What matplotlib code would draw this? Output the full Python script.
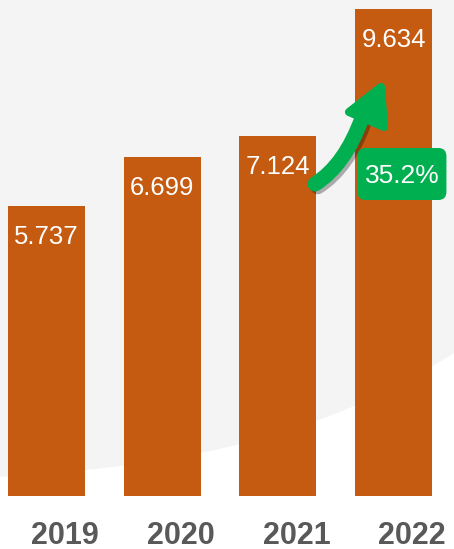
import matplotlib

matplotlib.use("Agg")
import matplotlib.pyplot as plt
import matplotlib.patheffects as pe
from matplotlib.patches import FancyBboxPatch, PathPatch, Polygon
from matplotlib.path import Path
from matplotlib.transforms import IdentityTransform

plt.rcParams["font.family"] = ["Liberation Sans", "DejaVu Sans"]

# Data
years = ["2019", "2020", "2021", "2022"]
values = [5.737, 6.699, 7.124, 9.634]
growth_label = "35.2%"

BAR_COLOR = "#C55A11"
GREEN = "#00B050"
YEAR_COLOR = "#595959"

fig = plt.figure(figsize=(4.54, 5.49), dpi=100, facecolor="white")
ax = fig.add_axes([0, 0, 1, 1])
ax.set_facecolor("none")
ax.axis("off")

# light gray swoosh in the background (figure pixels)
verts = [(0, 72), (150, 82), (304, 100), (454, 196), (454, 549), (0, 549), (0, 72)]
codes = [Path.MOVETO, Path.CURVE4, Path.CURVE4, Path.CURVE4,
         Path.LINETO, Path.LINETO, Path.CLOSEPOLY]
bg = PathPatch(Path(verts, codes), facecolor="#F4F4F4", edgecolor="none",
               transform=IdentityTransform(), zorder=-10)
fig.patches.append(bg)

x = list(range(len(years)))
ax.bar(x, values, width=0.665, color=BAR_COLOR, zorder=2)
ax.set_xlim(-0.402, 3.522)
ax.set_ylim(-1.048, 9.812)

for i, v in zip(x, values):
    ax.annotate(f"{v:.3f}", (i, v), xytext=(0, -27.4), textcoords="offset points",
                ha="center", va="baseline", color="white", fontsize=18.5, zorder=3)

for i, yr in zip(x, years):
    ax.text(i + 0.16, -0.95, yr, ha="center", va="baseline", color=YEAR_COLOR,
            fontsize=22, fontweight="bold")

# growth arrow from 2021 to 2022: curved shaft + rounded head
shadow = [pe.SimpleLineShadow(offset=(2, -2), alpha=0.3), pe.Normal()]
shaft = Path([(2.321, 6.172), (2.580, 6.548), (2.727, 7.478)],
             [Path.MOVETO, Path.CURVE3, Path.CURVE3])
ax.add_patch(PathPatch(shaft, fill=False, edgecolor=GREEN, lw=10.8,
                       capstyle="round", zorder=5, path_effects=shadow))
head = Polygon([(2.891, 8.091), (2.614, 7.596), (2.917, 7.300)], closed=True,
               facecolor=GREEN, edgecolor=GREEN, lw=5.8, joinstyle="round", zorder=5,
               path_effects=[pe.SimplePatchShadow(offset=(2, -2), alpha=0.3), pe.Normal()])
ax.add_patch(head)

# growth badge
bx, by, bw, bh = 3.072, 6.37, 0.769, 1.029
badge = FancyBboxPatch((bx - bw / 2, by - bh / 2), bw, bh,
                       boxstyle="round,pad=0,rounding_size=0.07",
                       mutation_aspect=115.7 / 50.55,
                       facecolor=GREEN, edgecolor="none", zorder=6)
ax.add_patch(badge)
ax.text(bx, 6.19, growth_label, ha="center", va="baseline", color="white",
        fontsize=19, zorder=7)

fig.savefig("out.png", dpi=100)
